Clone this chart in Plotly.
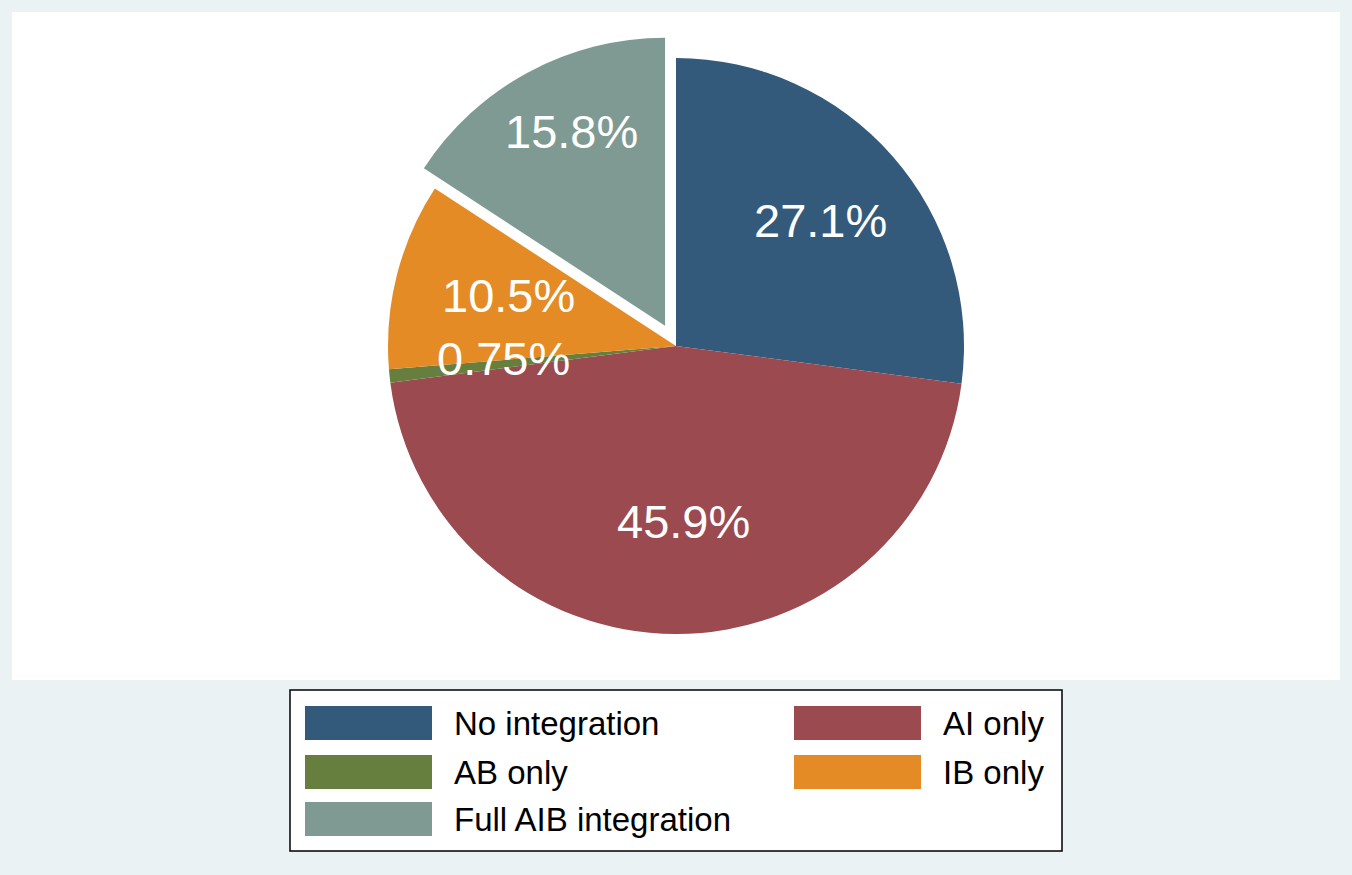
import math
import plotly.graph_objects as go

# ---------------- data ----------------
categories = ["No integration", "AI only", "AB only", "IB only", "Full AIB integration"]
shares = [27.1, 45.9, 0.75, 10.5, 15.8]          # percent
pulls = [0, 0, 0, 0, 0.08]                        # exploded slice
colors = ["#335a7b", "#9b4a4f", "#667f3f", "#e58b25", "#7f9a92"]

# ---------------- layout constants (pixels) ----------------
W, H = 1352, 875
CX, CY, R = 676, 346, 288
FONT = "Liberation Sans, Arial, Helvetica, sans-serif"
BG = "#eaf2f3"


def px(x):
    return x / W


def py(y):
    return 1 - y / H


maxpull = max(pulls)
half = R * (1 + maxpull)
dom_x = [px(CX - half), px(CX + half)]
dom_y = [py(CY + half), py(CY - half)]

fig = go.Figure(
    go.Pie(
        labels=categories,
        values=shares,
        sort=False,
        direction="clockwise",
        rotation=0,
        pull=pulls,
        marker=dict(colors=colors, line=dict(width=0)),
        textinfo="none",
        hoverinfo="label+percent",
        showlegend=False,
        domain=dict(x=dom_x, y=dom_y),
    )
)

shapes = [
    # white plot region
    dict(type="rect", xref="paper", yref="paper", x0=px(12), x1=px(1340), y0=py(680), y1=py(12),
         fillcolor="white", line=dict(width=0), layer="below"),
    # legend box
    dict(type="rect", xref="paper", yref="paper", x0=px(290), x1=px(1062), y0=py(851), y1=py(690),
         fillcolor="white", line=dict(color="black", width=1.5), layer="below"),
]
annotations = []

# slice labels computed from the data
total = sum(shares)
cum = 0.0
for v, p in zip(shares, pulls):
    a0 = cum / total * 2 * math.pi
    cum += v
    a1 = cum / total * 2 * math.pi
    mid = (a0 + a1) / 2
    ux, uy = math.sin(mid), -math.cos(mid)
    # exploded slices also push their label further out
    ox, oy = CX + 2.4 * p * R * ux, CY + 2.4 * p * R * uy
    d = 0.63 * R
    lx, ly = ox + d * ux + 8, oy + d * uy - 6
    annotations.append(dict(
        x=px(lx), y=py(ly), xref="paper", yref="paper", text=f"{v:.3g}%",
        showarrow=False, xanchor="center", yanchor="middle",
        font=dict(family=FONT, size=47, color="white"),
    ))

# legend (two columns, row-wise order)
col_x = [305, 794]
row_y = [723, 772, 819]
for i, (lab, col) in enumerate(zip(categories, colors)):
    c, r = i % 2, i // 2
    x0 = col_x[c]
    yc = row_y[r]
    shapes.append(dict(type="rect", xref="paper", yref="paper",
                       x0=px(x0), x1=px(x0 + 127), y0=py(yc + 17), y1=py(yc - 17),
                       fillcolor=col, line=dict(width=0), layer="below"))
    annotations.append(dict(
        x=px(x0 + 147), y=py(yc), xref="paper", yref="paper", text=lab,
        showarrow=False, xanchor="left", yanchor="middle",
        font=dict(family=FONT, size=33, color="black"),
    ))

fig.update_layout(
    width=W, height=H,
    margin=dict(l=0, r=0, t=0, b=0),
    paper_bgcolor=BG,
    plot_bgcolor=BG,
    shapes=shapes,
    annotations=annotations,
    showlegend=False,
)

fig.write_html(
    "out.html",
    config={"displayModeBar": False},
    post_script="document.body.style.margin='0';document.body.style.background='" + BG + "';",
)
